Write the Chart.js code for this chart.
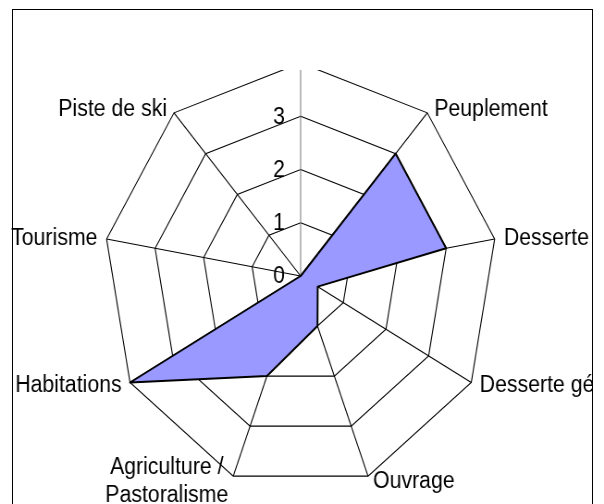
<!DOCTYPE html>
<html>
<head>
<meta charset="utf-8">
<script src="https://cdn.jsdelivr.net/npm/chart.js@4/dist/chart.umd.min.js"></script>
<style>
  html, body { margin: 0; padding: 0; background: #fff; }
  #clip { position: absolute; left: 0; top: 0; width: 592px; height: 504px; overflow: hidden; }
  #c { position: absolute; left: 0; top: 0; transform: scaleX(0.925); transform-origin: 0 0; }
  #frame { position: absolute; left: 12px; top: 9px; width: 579px; height: 600px;
           border: 1px solid #000; border-bottom: none; pointer-events: none; }
</style>
</head>
<body>
<div id="clip"><canvas id="c" width="800" height="504"></canvas></div>
<div id="frame"></div>
<script>
// ---- data ----
const categories = ['', 'Peuplement', 'Desserte forestière', 'Desserte générale', 'Ouvrage',
                    ['Agriculture /', 'Pastoralisme'], 'Habitations', 'Tourisme', 'Piste de ski'];
const seriesValues = [0, 3, 3, 0.4, 1, 2, 4, 0, 0];
const tickLabels = ['0', '1', '2', '3', '4'];
const scaleMin = 0;
const scaleMax = 4;
const scaleStep = 1;

const FONT = '23px "Liberation Sans", Arial, sans-serif';

const excelLabels = {
  id: 'excelLabels',
  beforeDraw(chart) {
    const ctx = chart.ctx;
    ctx.save();
    ctx.beginPath();
    ctx.rect(0, 70, chart.width, chart.height - 70);
    ctx.clip();
  },
  afterDraw(chart) {
    const ctx = chart.ctx;
    const s = chart.scales.r;
    ctx.font = FONT;
    ctx.fillStyle = '#000';
    ctx.textAlign = 'right';
    ctx.textBaseline = 'middle';
    s.ticks.forEach((t, i) => {
      const y = s.yCenter - s.getDistanceFromCenterForValue(t.value);
      ctx.fillText(tickLabels[i] !== undefined ? tickLabels[i] : t.label, s.xCenter - 17, y + 1);
    });
    ctx.restore();

    ctx.save();
    ctx.font = FONT;
    ctx.fillStyle = '#000';
    ctx.textBaseline = 'middle';
    ctx.textAlign = 'center';
    const labels = chart.data.labels;
    for (let i = 0; i < labels.length; i++) {
      const lab = labels[i];
      const lines = Array.isArray(lab) ? lab : [lab];
      if (!lines.join('')) continue;
      const a = s.getIndexAngle(i);
      const sn = Math.sin(a), cs = Math.cos(a);
      const v = s.getPointPosition(i, s.getDistanceFromCenterForValue(scaleMax));
      const gap = 3 + 7 * Math.abs(sn);
      const maxW = Math.max(...lines.map(l => ctx.measureText(l).width));
      let cx;
      if (sn > 0.01) cx = v.x + gap + maxW / 2;
      else if (sn < -0.01) cx = v.x - gap - maxW / 2;
      else cx = v.x;
      const cy = v.y - 5 * cs + 1;
      const lh = 28.5;
      lines.forEach((l, k) => {
        ctx.fillText(l, cx, cy + (k - (lines.length - 1) / 2) * lh);
      });
    }
    ctx.restore();
  }
};

new Chart(document.getElementById('c'), {
  type: 'radar',
  data: {
    labels: categories,
    datasets: [{
      label: 'Série1',
      data: seriesValues,
      backgroundColor: '#9999FF',
      borderColor: '#000000',
      borderWidth: 2,
      borderJoinStyle: 'round',
      fill: true,
      pointRadius: 0,
      pointHoverRadius: 0,
      tension: 0
    }]
  },
  options: {
    responsive: false,
    animation: false,
    events: [],
    layout: { padding: { left: 112, right: 261, top: 63, bottom: 14 } },
    plugins: { legend: { display: false }, tooltip: { enabled: false } },
    scales: {
      r: {
        min: scaleMin, max: scaleMax,
        ticks: { display: false, stepSize: scaleStep },
        grid: { color: '#000', lineWidth: 1.1, circular: false },
        angleLines: { display: false },
        pointLabels: { display: false },
        z: 0
      },
      r2: {
        type: 'radialLinear',
        min: scaleMin, max: scaleMax,
        ticks: { display: false, stepSize: scaleStep },
        grid: { display: false },
        angleLines: { display: true, lineWidth: 1.1,
                      color: (ctx) => ctx.index === 0 ? '#808080' : '#000' },
        pointLabels: { display: false },
        z: 1
      }
    }
  },
  plugins: [excelLabels]
});
</script>
</body>
</html>
